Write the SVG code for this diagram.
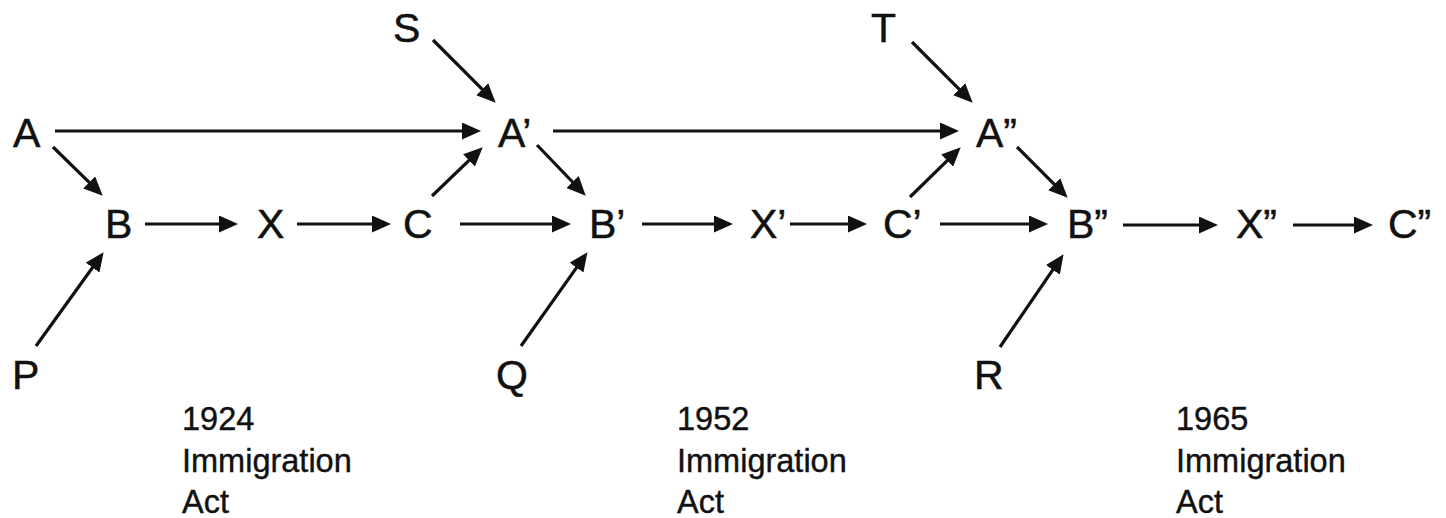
<svg xmlns="http://www.w3.org/2000/svg" width="1446" height="518" viewBox="0 0 1446 518">
<style>
.n{font-family:"Liberation Sans",Arial,sans-serif;font-size:41px;fill:#111;stroke:#111;stroke-width:0.5}
.y{font-family:"Liberation Sans",Arial,sans-serif;font-size:32.5px;fill:#111;stroke:#111;stroke-width:0.4}
.e{stroke:#111;stroke-width:3.2;fill:none;marker-end:url(#ah)}
</style>
<defs>
<marker id="ah" markerUnits="userSpaceOnUse" markerWidth="19" markerHeight="17" viewBox="0 0 19 17" refX="9" refY="8.5" orient="auto">
<path d="M0,0 L19,8.5 L0,17 Z" fill="#111"/>
</marker>
</defs>
<rect width="1446" height="518" fill="#fff"/>
<g id="connectors">
<line class="e" x1="55" y1="131" x2="471" y2="131"/>
<line class="e" x1="53" y1="147" x2="95.6" y2="188.7"/>
<line class="e" x1="36" y1="346" x2="97.8" y2="260.3"/>
<line class="e" x1="145" y1="224" x2="228" y2="224"/>
<line class="e" x1="297" y1="224" x2="381" y2="224"/>
<line class="e" x1="432" y1="196" x2="475.5" y2="154.2"/>
<line class="e" x1="433" y1="40" x2="488.6" y2="95.6"/>
<line class="e" x1="460" y1="224" x2="561" y2="224"/>
<line class="e" x1="537" y1="145" x2="578.8" y2="188.5"/>
<line class="e" x1="521" y1="346" x2="581.7" y2="260.3"/>
<line class="e" x1="553" y1="131" x2="949" y2="131"/>
<line class="e" x1="642" y1="224" x2="723" y2="224"/>
<line class="e" x1="790" y1="224" x2="857" y2="224"/>
<line class="e" x1="912" y1="42" x2="965.6" y2="95.6"/>
<line class="e" x1="910" y1="197" x2="953.6" y2="154.3"/>
<line class="e" x1="940" y1="224" x2="1038" y2="224"/>
<line class="e" x1="1017" y1="147" x2="1060.6" y2="190.6"/>
<line class="e" x1="1000" y1="347" x2="1057.9" y2="262.4"/>
<line class="e" x1="1123" y1="225" x2="1208" y2="225"/>
<line class="e" x1="1293" y1="225" x2="1363" y2="225"/>
</g>
<g id="A"><text class="n" x="13" y="147">A</text></g>
<g id="B"><text class="n" x="105" y="238">B</text></g>
<g id="X"><text class="n" x="257" y="238">X</text></g>
<g id="C"><text class="n" x="403" y="238">C</text></g>
<g id="S"><text class="n" x="393" y="42">S</text></g>
<g id="P"><text class="n" x="12" y="389">P</text></g>
<g id="A1"><text class="n" x="498" y="147">A’</text></g>
<g id="B1"><text class="n" x="589" y="238">B’</text></g>
<g id="X1"><text class="n" x="750" y="238">X’</text></g>
<g id="C1"><text class="n" x="883" y="238">C’</text></g>
<g id="Q"><text class="n" x="496" y="389">Q</text></g>
<g id="T"><text class="n" x="871" y="42">T</text></g>
<g id="A2"><text class="n" x="976" y="147">A”</text></g>
<g id="B2"><text class="n" x="1067" y="238">B”</text></g>
<g id="X2"><text class="n" x="1236" y="238">X”</text></g>
<g id="C2"><text class="n" x="1388" y="238">C”</text></g>
<g id="R"><text class="n" x="974" y="389">R</text></g>
<g id="act1924"><text class="y" x="182" y="430">1924</text><text class="y" x="182" y="472">Immigration</text><text class="y" x="182" y="513">Act</text></g>
<g id="act1952"><text class="y" x="677" y="430">1952</text><text class="y" x="677" y="472">Immigration</text><text class="y" x="677" y="513">Act</text></g>
<g id="act1965"><text class="y" x="1176" y="430">1965</text><text class="y" x="1176" y="472">Immigration</text><text class="y" x="1176" y="513">Act</text></g>
</svg>
